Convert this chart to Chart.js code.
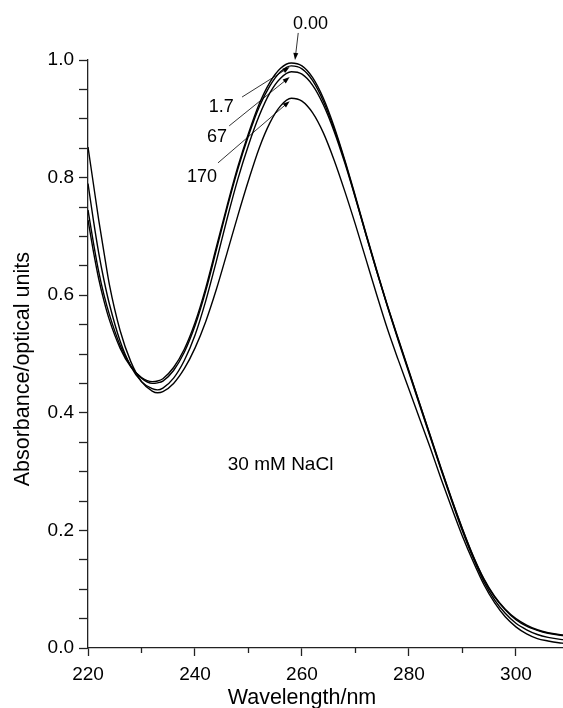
<!DOCTYPE html>
<html>
<head>
<meta charset="utf-8">
<script src="https://cdn.jsdelivr.net/npm/chart.js@4/dist/chart.umd.min.js"></script>
<style>
  html, body { margin: 0; padding: 0; background: #fff; }
  #wrap { width: 563px; height: 708px; }
</style>
</head>
<body>
<div id="wrap"><canvas id="uvChart" width="563" height="708"></canvas></div>
<script>
// wavelength grid (nm) shared by all four spectra
var wavelengths = [220, 221, 222, 223, 224, 226, 228, 230, 232, 233, 234, 236, 238, 240, 242, 244, 246, 248, 250,
  252, 254, 256, 258, 260, 262, 264, 266, 268, 270, 272, 274, 276, 278, 280, 282, 284, 286, 288, 290,
  292, 294, 296, 298, 300, 302, 304, 306, 308, 309];

// absorbance, one array per concentration
var abs000 = [0.728, 0.675, 0.628, 0.590, 0.558, 0.510, 0.478, 0.460, 0.453, 0.454, 0.458, 0.477, 0.508, 0.553, 0.612, 0.682, 0.752, 0.818, 0.875,
  0.925, 0.962, 0.986, 0.995, 0.990, 0.970, 0.935, 0.887, 0.830, 0.768, 0.704, 0.642, 0.582, 0.526, 0.471, 0.416, 0.361, 0.306, 0.253, 0.203,
  0.157, 0.118, 0.088, 0.066, 0.050, 0.039, 0.031, 0.026, 0.023, 0.022];
var abs1p7 = [0.745, 0.690, 0.640, 0.600, 0.567, 0.515, 0.480, 0.459, 0.450, 0.451, 0.454, 0.472, 0.503, 0.548, 0.607, 0.677, 0.748, 0.814, 0.871,
  0.920, 0.956, 0.980, 0.990, 0.985, 0.965, 0.930, 0.883, 0.828, 0.766, 0.702, 0.640, 0.581, 0.525, 0.470, 0.415, 0.360, 0.305, 0.252, 0.202,
  0.156, 0.117, 0.087, 0.065, 0.048, 0.037, 0.030, 0.025, 0.022, 0.021];
var abs67 = [0.790, 0.728, 0.672, 0.625, 0.585, 0.522, 0.479, 0.453, 0.441, 0.439, 0.442, 0.459, 0.489, 0.532, 0.590, 0.658, 0.730, 0.797, 0.855,
  0.905, 0.944, 0.969, 0.980, 0.976, 0.957, 0.924, 0.879, 0.825, 0.765, 0.702, 0.640, 0.580, 0.523, 0.468, 0.413, 0.358, 0.303, 0.250, 0.199,
  0.153, 0.113, 0.082, 0.059, 0.042, 0.031, 0.023, 0.018, 0.015, 0.014];
var abs170 = [0.852, 0.790, 0.728, 0.672, 0.618, 0.540, 0.487, 0.453, 0.437, 0.434, 0.436, 0.450, 0.475, 0.510, 0.555, 0.610, 0.672, 0.735, 0.795,
  0.850, 0.893, 0.922, 0.935, 0.930, 0.910, 0.876, 0.830, 0.777, 0.720, 0.660, 0.600, 0.542, 0.490, 0.440, 0.390, 0.340, 0.288, 0.238, 0.190,
  0.147, 0.108, 0.077, 0.053, 0.036, 0.024, 0.016, 0.012, 0.009, 0.008];

var seriesNames = ['0.00', '1.7', '67', '170'];
var seriesValues = [abs000, abs1p7, abs67, abs170];

// axis ticks
var xMajorTicks = [220, 240, 260, 280, 300];
var xMinorTicks = [230, 250, 270, 290];

// curve labels: text anchor and arrow (tail -> tip), in data units
var labelText = ['0.00', '1.7', '67', '170'];
var labelAt = [[261.6, 1.053], [244.9, 0.912], [244.1, 0.861], [241.3, 0.793]];
var arrowFrom = [[259.3, 1.046], [248.8, 0.937], [246.4, 0.888], [244.3, 0.825]];
var arrowTo = [[258.7, 1.000], [257.7, 0.988], [257.7, 0.971], [257.7, 0.930]];
var noteText = '30 mM NaCl';
var noteAt = [256.0, 0.303];
var xTitle = 'Wavelength/nm';
var yTitle = 'Absorbance/optical units';

var FONT = "'Liberation Sans', Arial, Helvetica, sans-serif";

function toPoints(vals) {
  var pts = [];
  for (var i = 0; i < wavelengths.length; i++) {
    pts.push({ x: wavelengths[i], y: vals[i] });
  }
  return pts;
}

var datasets = seriesValues.map(function(vals, i) {
  return {
    label: seriesNames[i],
    data: toPoints(vals),
    borderColor: '#000',
    borderWidth: 1.4,
    pointRadius: 0,
    fill: false,
    cubicInterpolationMode: 'monotone'
  };
});

// minor x ticks, axis titles, labels and arrows
var decorPlugin = {
  id: 'decor',
  afterDraw: function(chart) {
    var ctx = chart.ctx;
    var xs = chart.scales.x, ys = chart.scales.y;
    var base = chart.chartArea.bottom;
    ctx.save();
    ctx.strokeStyle = '#222';
    ctx.lineWidth = 1.3;
    xMinorTicks.forEach(function(v) {
      var px = Math.round(xs.getPixelForValue(v)) + 0.5;
      ctx.beginPath();
      ctx.moveTo(px, base);
      ctx.lineTo(px, base + 5);
      ctx.stroke();
    });

    ctx.fillStyle = '#000';
    ctx.font = '21.5px ' + FONT;
    ctx.textBaseline = 'alphabetic';

    // x title centred under 260 nm, as in the original
    ctx.textAlign = 'center';
    ctx.fillText(xTitle, xs.getPixelForValue(260), base + 56);

    // y title, starting just above the 0.3 level
    ctx.save();
    ctx.translate(29, ys.getPixelForValue(0.275));
    ctx.rotate(-Math.PI / 2);
    ctx.textAlign = 'left';
    ctx.fillText(yTitle, 0, 0);
    ctx.restore();

    ctx.font = '18px ' + FONT;
    ctx.textAlign = 'center';
    labelText.forEach(function(t, i) {
      ctx.fillText(t, xs.getPixelForValue(labelAt[i][0]), ys.getPixelForValue(labelAt[i][1]));
      var x0 = xs.getPixelForValue(arrowFrom[i][0]), y0 = ys.getPixelForValue(arrowFrom[i][1]);
      var x1 = xs.getPixelForValue(arrowTo[i][0]), y1 = ys.getPixelForValue(arrowTo[i][1]);
      var ang = Math.atan2(y1 - y0, x1 - x0);
      ctx.strokeStyle = '#000';
      ctx.lineWidth = 0.8;
      ctx.beginPath();
      ctx.moveTo(x0, y0);
      ctx.lineTo(x1 - 5 * Math.cos(ang), y1 - 5 * Math.sin(ang));
      ctx.stroke();
      ctx.beginPath();
      ctx.moveTo(x1, y1);
      ctx.lineTo(x1 - 7 * Math.cos(ang) + 2.5 * Math.sin(ang), y1 - 7 * Math.sin(ang) - 2.5 * Math.cos(ang));
      ctx.lineTo(x1 - 7 * Math.cos(ang) - 2.5 * Math.sin(ang), y1 - 7 * Math.sin(ang) + 2.5 * Math.cos(ang));
      ctx.closePath();
      ctx.fill();
    });

    ctx.font = '19px ' + FONT;
    ctx.fillText(noteText, xs.getPixelForValue(noteAt[0]), ys.getPixelForValue(noteAt[1]));
    ctx.restore();
  }
};

var ctx = document.getElementById('uvChart').getContext('2d');
var chart = new Chart(ctx, {
  type: 'line',
  data: { datasets: datasets },
  options: {
    responsive: false,
    animation: false,
    devicePixelRatio: 1,
    layout: { padding: { top: 60, right: 0, left: 0, bottom: 0 } },
    plugins: { legend: { display: false }, tooltip: { enabled: false } },
    scales: {
      x: {
        type: 'linear',
        min: 220,
        max: 308.8,
        afterFit: function(scale) { scale.height = 60; },
        afterBuildTicks: function(scale) {
          scale.ticks = xMajorTicks.map(function(v) { return { value: v }; });
        },
        ticks: {
          includeBounds: false,
          maxRotation: 0,
          autoSkip: false,
          padding: 7,
          color: '#000',
          font: { family: FONT, size: 19 }
        },
        grid: { drawOnChartArea: false, tickLength: 8, color: '#222', tickWidth: 1.3 },
        border: { display: true, color: '#222', width: 1.3 }
      },
      y: {
        min: 0,
        max: 1.0,
        afterFit: function(scale) { scale.width = 88; },
        ticks: {
          stepSize: 0.05,
          autoSkip: false,
          padding: 5,
          color: '#000',
          font: { family: FONT, size: 19 },
          callback: function(v) {
            var k = v * 5;
            return Math.abs(k - Math.round(k)) < 1e-6 ? v.toFixed(1) : '';
          }
        },
        grid: { drawOnChartArea: false, tickLength: 9, color: '#222', tickWidth: 1.3 },
        border: { display: true, color: '#222', width: 1.3 }
      }
    }
  },
  plugins: [decorPlugin]
});
</script>
</body>
</html>
